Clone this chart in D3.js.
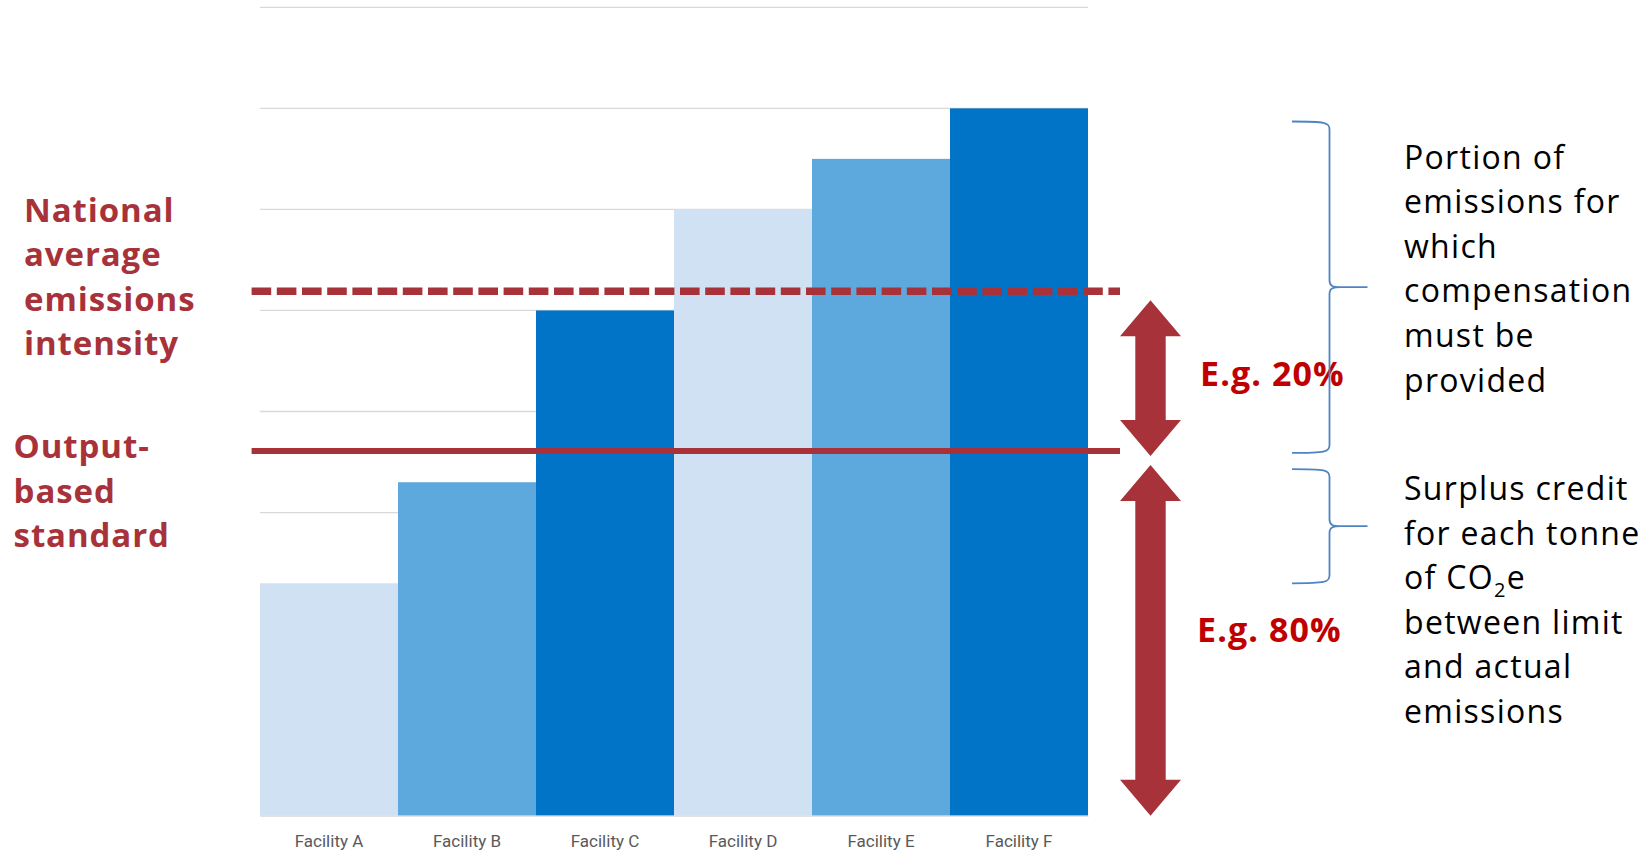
<!DOCTYPE html>
<html>
<head>
<meta charset="utf-8">
<script src="https://cdn.jsdelivr.net/npm/d3@7"></script>
<style>
  html, body { margin: 0; padding: 0; background: #ffffff; }
  svg { display: block; }
</style>
</head>
<body>
<svg id="chart" width="1644" height="852"></svg>
<script>
// ---------------- data ----------------
const categories = ["Facility A", "Facility B", "Facility C", "Facility D", "Facility E", "Facility F"];
const values = [2.3, 3.3, 5.0, 6.0, 6.5, 7.0];
const gridTicks = [0, 1, 2, 3, 4, 5, 6, 7, 8];
const nationalAverage = 5.19;     // dashed line
const outputStandard = 3.61;      // solid line
const arrowUpper = [3.56, 5.10];  // double arrow extent (value units)
const arrowLower = [0, 3.47];
const braceUpper = [3.59, 6.87];
const braceLower = [2.3, 3.43];
const labelNational = ["National", "average", "emissions", "intensity"];
const labelStandard = ["Output-", "based", "standard"];
const pctUpper = "E.g. 20%";
const pctLower = "E.g. 80%";
const noteUpper = ["Portion of", "emissions for", "which", "compensation", "must be", "provided"];
const noteLower = ["Surplus credit", "for each tonne", "of CO\u2082e", "between limit", "and actual", "emissions"];

// ---------------- styles ----------------
const barColors = ["#cfe1f2", "#5da9dd", "#0274c8", "#cfe1f2", "#5da9dd", "#0274c8"];
const red = "#a8323a";
const brightRed = "#c00000";
const braceColor = "#4f84c4";

const svg = d3.select("#chart");

const x = d3.scaleBand().domain(categories).range([260, 1088]).padding(0);
const y = d3.scaleLinear().domain([0, 8]).range([815.7, 7.3]);

// gridlines
svg.append("g").selectAll("line").data(gridTicks.slice(1)).join("line")
  .attr("x1", x.range()[0]).attr("x2", x.range()[1])
  .attr("y1", d => y(d)).attr("y2", d => y(d))
  .attr("stroke", "#d9d9d9").attr("stroke-width", 1.3);

// bars
svg.append("g").selectAll("rect").data(values).join("rect")
  .attr("x", (d, i) => x(categories[i]))
  .attr("width", x.bandwidth())
  .attr("y", d => y(d))
  .attr("height", d => y(0) - y(d))
  .attr("fill", (d, i) => barColors[i]);

// x axis
const xAxis = svg.append("g")
  .attr("transform", `translate(0,${y(0)})`)
  .call(d3.axisBottom(x).tickSize(0).tickSizeOuter(0).tickPadding(19));
xAxis.select(".domain").attr("stroke", "#d9d9d9").attr("stroke-width", 1.3);
xAxis.selectAll("text")
  .attr("font-family", "Roboto, 'Liberation Sans', sans-serif")
  .attr("font-size", 17).attr("fill", "#595959");

// reference lines
const lineX0 = 251.6, lineX1 = 1120;
svg.append("line")
  .attr("x1", lineX0).attr("x2", lineX1)
  .attr("y1", y(nationalAverage)).attr("y2", y(nationalAverage))
  .attr("stroke", red).attr("stroke-width", 7.5)
  .attr("stroke-dasharray", "19.6 5.6");
svg.append("line")
  .attr("x1", lineX0).attr("x2", lineX1)
  .attr("y1", y(outputStandard)).attr("y2", y(outputStandard))
  .attr("stroke", red).attr("stroke-width", 6);

// double arrows
const ax = 1150.5, headHalf = 30.5, shaftHalf = 15.2, headLen = 36;
function dblArrow(range) {
  const top = y(range[1]), bot = y(range[0]);
  return d3.line()([
    [ax, top], [ax + headHalf, top + headLen], [ax + shaftHalf, top + headLen],
    [ax + shaftHalf, bot - headLen], [ax + headHalf, bot - headLen], [ax, bot],
    [ax - headHalf, bot - headLen], [ax - shaftHalf, bot - headLen],
    [ax - shaftHalf, top + headLen], [ax - headHalf, top + headLen]
  ]) + "Z";
}
svg.append("g").selectAll("path").data([arrowUpper, arrowLower]).join("path")
  .attr("d", dblArrow).attr("fill", red);

// percentage labels
const boldFont = "'Open Sans', 'Noto Sans', sans-serif";
svg.append("text").attr("x", 1200).attr("y", 386)
  .attr("font-family", boldFont).attr("font-weight", 700).attr("font-size", 34)
  .attr("letter-spacing", 1.1).attr("fill", brightRed).text(pctUpper);
svg.append("text").attr("x", 1197).attr("y", 641.5)
  .attr("font-family", boldFont).attr("font-weight", 700).attr("font-size", 34)
  .attr("letter-spacing", 1.1).attr("fill", brightRed).text(pctLower);

// braces
const bx0 = 1292, bxm = 1329.5, bx1 = 1367.5;
function brace(range) {
  const t = y(range[1]), b = y(range[0]), m = (t + b) / 2;
  return `M${bx0},${t} C${bxm - 4},${t} ${bxm},${t + 1} ${bxm},${t + 8}` +
         ` L${bxm},${m - 7} C${bxm},${m - 1} ${bxm + 3},${m} ${bxm + 12},${m} L${bx1},${m}` +
         ` M${bxm + 12},${m} C${bxm + 3},${m} ${bxm},${m + 1} ${bxm},${m + 7}` +
         ` L${bxm},${b - 8} C${bxm},${b - 1} ${bxm - 4},${b} ${bx0},${b}`;
}
svg.append("g").selectAll("path").data([braceUpper, braceLower]).join("path")
  .attr("d", brace).attr("fill", "none").attr("stroke", braceColor).attr("stroke-width", 1.8);

// left labels
const lh = 44.6;
const lg = svg.append("g").attr("font-family", boldFont).attr("font-weight", 700)
  .attr("font-size", 33).attr("fill", red).attr("letter-spacing", 0.9);
lg.selectAll("text.nat").data(labelNational).join("text").attr("class", "nat")
  .attr("x", 24).attr("y", (d, i) => 221.5 + i * lh).text(d => d);
lg.selectAll("text.obs").data(labelStandard).join("text").attr("class", "obs")
  .attr("x", 13.6).attr("y", (d, i) => 458 + i * lh).text(d => d);

// right notes
const rg = svg.append("g").attr("font-family", "'Open Sans', 'Noto Sans', sans-serif")
  .attr("font-size", 32).attr("fill", "#000000").attr("letter-spacing", 1.3);
rg.selectAll("text.up").data(noteUpper).join("text").attr("class", "up")
  .attr("x", 1404).attr("y", (d, i) => 168.5 + i * lh).text(d => d);
rg.selectAll("text.lo").data(noteLower).join("text").attr("class", "lo")
  .attr("x", 1404).attr("y", (d, i) => 500 + i * lh)
  .each(function(d) {
    const t = d3.select(this);
    if (d.includes("\u2082")) {
      const parts = d.split("\u2082");
      t.append("tspan").text(parts[0]);
      t.append("tspan").attr("font-size", 20).attr("dy", 8).text("2");
      t.append("tspan").attr("dy", -8).text(parts[1]);
    } else {
      t.text(d);
    }
  });
</script>
</body>
</html>
